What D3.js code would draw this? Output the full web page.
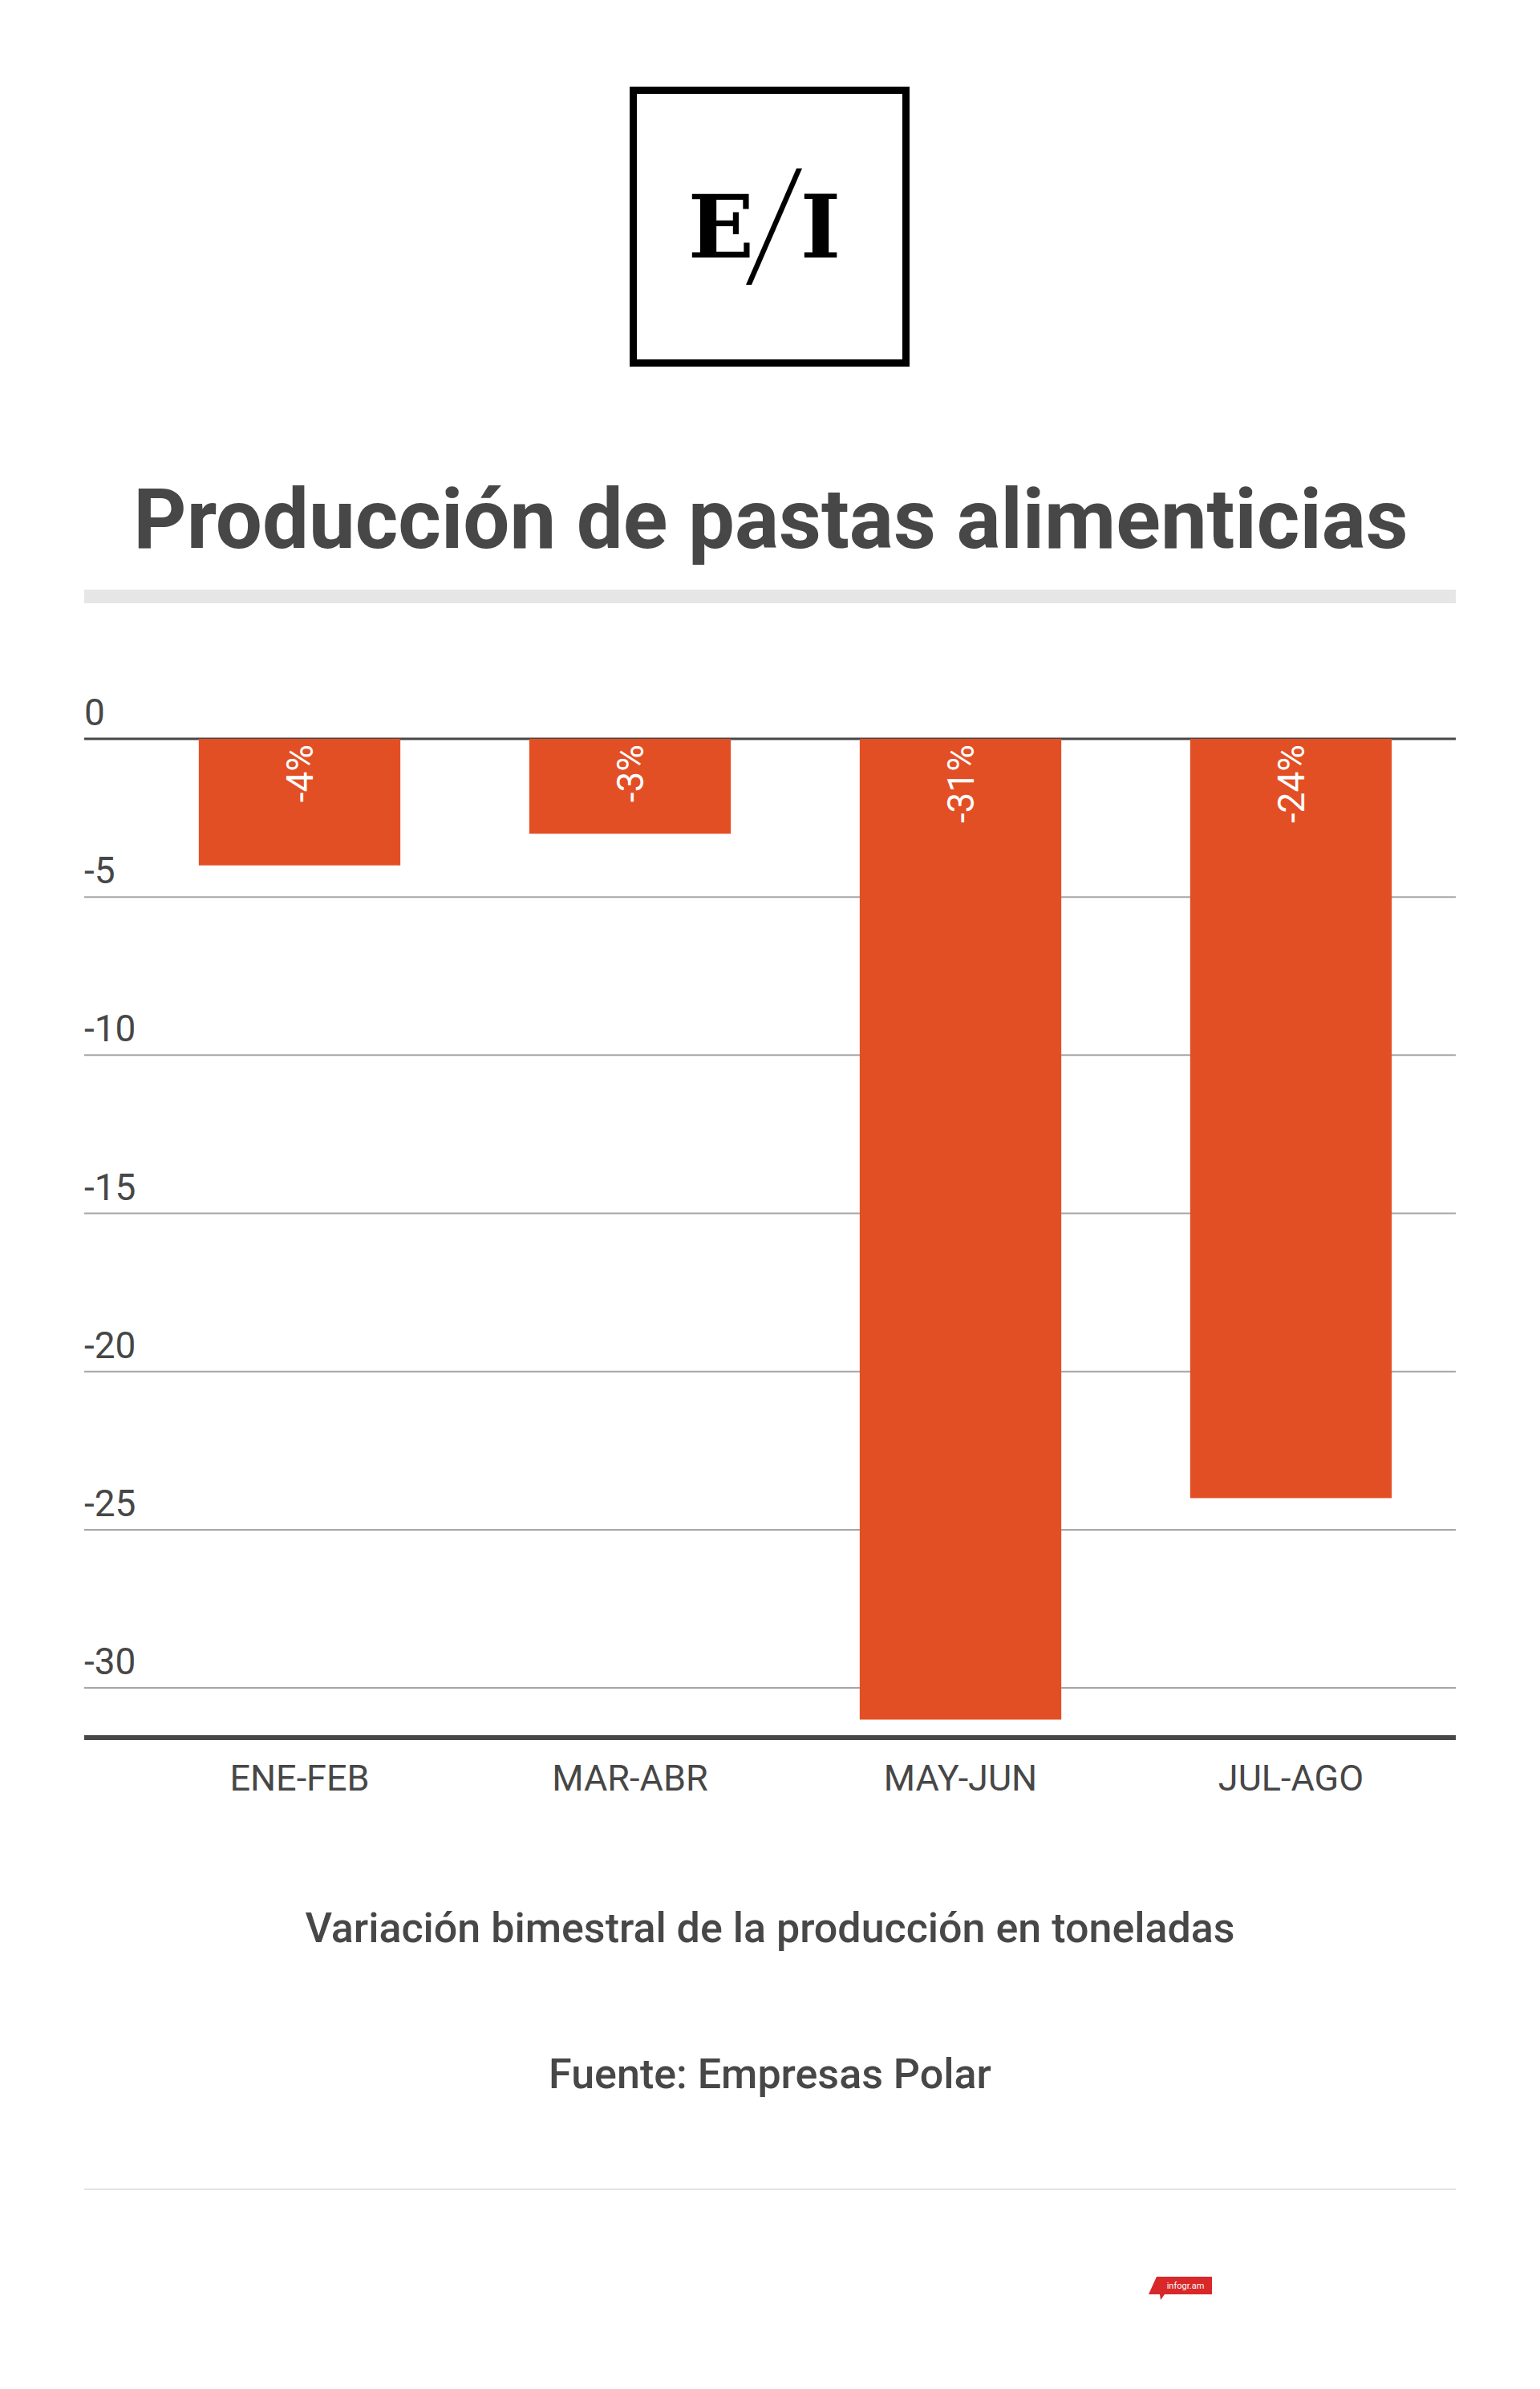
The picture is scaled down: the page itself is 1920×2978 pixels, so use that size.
<!DOCTYPE html>
<html>
<head>
<meta charset="utf-8">
<script src="https://cdn.jsdelivr.net/npm/d3@7"></script>
<style>
  html, body { margin: 0; padding: 0; background: #fff; }
  svg { display: block; }
</style>
</head>
<body>
<svg id="chart"></svg>
<script>
// data
const categories = ["ENE-FEB", "MAR-ABR", "MAY-JUN", "JUL-AGO"];
const values = [-4, -3, -31, -24];
const valueLabels = ["-4%", "-3%", "-31%", "-24%"];
const yTicks = [0, -5, -10, -15, -20, -25, -30];

const titleText = "Producción de pastas alimenticias";
const subtitleText = "Variación bimestral de la producción en toneladas";
const sourceText = "Fuente: Empresas Polar";

/***********************
 * dimensions
 ************************/
const width = 1920, height = 2978;
const textColor = "#474747";
const barColor = "#e34f25";
const plot = { left: 105, right: 1815, top: 921, bottom: 2166 };

const svg = d3.select("#chart")
  .attr("width", width)
  .attr("height", height)
  .attr("viewBox", [0, 0, width, height]);

/***********************
 * logo
 ************************/
const logo = svg.append("g");
logo.append("rect")
  .attr("x", 789.5).attr("y", 112.5)
  .attr("width", 340).attr("height", 340)
  .attr("fill", "none").attr("stroke", "#000").attr("stroke-width", 9);
logo.append("text")
  .attr("x", 899).attr("y", 321)
  .attr("text-anchor", "middle")
  .attr("font-family", "DejaVu Serif").attr("font-weight", "bold")
  .attr("font-size", 108).attr("fill", "#000")
  .text("E");
logo.append("text")
  .attr("x", 1023).attr("y", 321)
  .attr("text-anchor", "middle")
  .attr("font-family", "DejaVu Serif").attr("font-weight", "bold")
  .attr("font-size", 108).attr("fill", "#000")
  .text("I");
logo.append("polygon")
  .attr("points", "993,210 1000,210 937,355 930,355")
  .attr("fill", "#000");

/***********************
 * title
 ************************/
svg.append("text")
  .attr("x", 961).attr("y", 683)
  .attr("text-anchor", "middle")
  .attr("font-family", "Roboto").attr("font-weight", 700)
  .attr("font-size", 103).attr("fill", textColor)
  .text(titleText);

svg.append("rect")
  .attr("x", plot.left).attr("y", 735)
  .attr("width", plot.right - plot.left).attr("height", 17)
  .attr("fill", "#e6e6e6");

/***********************
 * scales
 ************************/
const y = d3.scaleLinear()
  .domain([-31.57, 0])
  .range([plot.bottom, plot.top]);

const x = d3.scaleBand()
  .domain(categories)
  .range([167.5, 1815.5])
  .paddingInner(0.39)
  .paddingOuter(0.195);

/***********************
 * grid + y labels
 ************************/
const grid = svg.append("g");
grid.selectAll("line")
  .data(yTicks)
  .join("line")
  .attr("x1", plot.left).attr("x2", plot.right)
  .attr("y1", d => y(d)).attr("y2", d => y(d))
  .attr("stroke", d => d === 0 ? textColor : "#a6a6a6")
  .attr("stroke-width", d => d === 0 ? 3 : 2);

grid.selectAll("text")
  .data(yTicks)
  .join("text")
  .attr("x", plot.left)
  .attr("y", d => y(d) - 17)
  .attr("font-family", "Roboto")
  .attr("font-size", 46)
  .attr("fill", textColor)
  .text(d => d);

/***********************
 * bars
 ************************/
svg.append("g")
  .selectAll("rect")
  .data(values)
  .join("rect")
  .attr("x", (d, i) => x(categories[i]))
  .attr("width", x.bandwidth())
  .attr("y", y(0))
  .attr("height", d => y(d) - y(0))
  .attr("fill", barColor);

svg.append("g")
  .selectAll("text")
  .data(valueLabels)
  .join("text")
  .attr("transform", (d, i) =>
    `translate(${x(categories[i]) + x.bandwidth() / 2},${y(0) + 7}) rotate(-90)`)
  .attr("dy", "0.35em")
  .attr("text-anchor", "end")
  .attr("font-family", "Roboto")
  .attr("font-size", 46)
  .attr("fill", "#fff")
  .text(d => d);

// bottom axis
svg.append("line")
  .attr("x1", plot.left).attr("x2", plot.right)
  .attr("y1", plot.bottom).attr("y2", plot.bottom)
  .attr("stroke", textColor).attr("stroke-width", 6);

svg.append("g")
  .selectAll("text")
  .data(categories)
  .join("text")
  .attr("x", d => x(d) + x.bandwidth() / 2)
  .attr("y", 2232)
  .attr("text-anchor", "middle")
  .attr("font-family", "Roboto")
  .attr("font-size", 45)
  .attr("fill", textColor)
  .text(d => d);

/***********************
 * footer
 ************************/
svg.append("text")
  .attr("x", 960).attr("y", 2421)
  .attr("text-anchor", "middle")
  .attr("font-family", "Roboto").attr("font-weight", 500)
  .attr("font-size", 52).attr("fill", textColor)
  .text(subtitleText);

svg.append("text")
  .attr("x", 960).attr("y", 2603)
  .attr("text-anchor", "middle")
  .attr("font-family", "Roboto").attr("font-weight", 500)
  .attr("font-size", 52).attr("fill", textColor)
  .text(sourceText);

svg.append("line")
  .attr("x1", plot.left).attr("x2", plot.right)
  .attr("y1", 2729).attr("y2", 2729)
  .attr("stroke", "#e3e3e3").attr("stroke-width", 2);

// infogram badge
const badge = svg.append("g");
badge.append("polygon")
  .attr("points", "1442,2838 1511,2838 1511,2860 1452,2860 1447,2867 1446,2860 1432,2860")
  .attr("fill", "#d8282a");
badge.append("text")
  .attr("x", 1478).attr("y", 2853)
  .attr("text-anchor", "middle")
  .attr("font-family", "Roboto")
  .attr("font-size", 11)
  .attr("fill", "#fff")
  .text("infogr.am");
</script>
</body>
</html>
